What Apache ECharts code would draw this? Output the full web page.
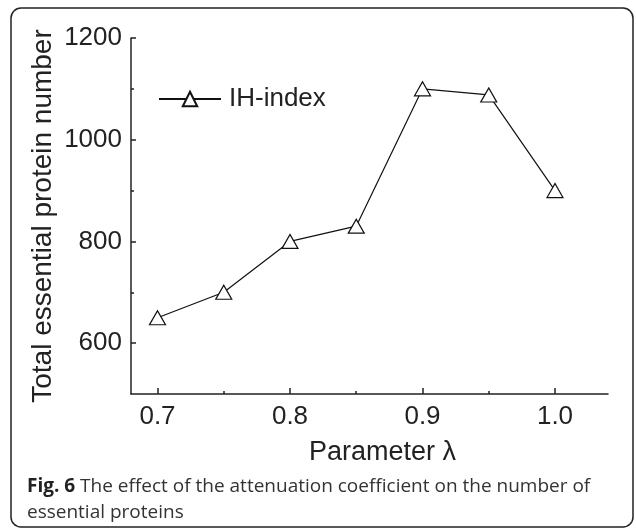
<!DOCTYPE html>
<html>
<head>
<meta charset="utf-8">
<style>
  html, body { margin: 0; padding: 0; background: #fff; }
  #chart { width: 636px; height: 530px; }
</style>
<script src="https://cdn.jsdelivr.net/npm/echarts@6/dist/echarts.min.js"></script>
</head>
<body>
<div id="chart"></div>
<script>
// data
var lambdas = [0.7, 0.75, 0.8, 0.85, 0.9, 0.95, 1.0];
var ihIndex = [650, 700, 800, 830, 1100, 1088, 900];
var xMajor = [0.7, 0.8, 0.9, 1.0];
var xMinor = [0.75, 0.85, 0.95];
var yMajor = [600, 800, 1000, 1200];
var yMinor = [700, 900, 1100];

var myChart = echarts.init(document.getElementById('chart'));
var axisFont = 'Liberation Sans, Arial, sans-serif';
var ink = '#222';

var points = lambdas.map(function (x, i) { return [x, ihIndex[i]]; });

// tick-only axis, drawn on top of the main one
function tickAxis(min, max, pos, values, len) {
    return {
        type: 'value', min: min, max: max, position: pos,
        axisLine: { show: false },
        axisTick: { show: true, inside: true, length: len, customValues: values, lineStyle: { color: ink, width: 1.5 } },
        axisLabel: { show: false },
        splitLine: { show: false }
    };
}

var option = {
    animation: false,
    backgroundColor: '#fff',
    grid: { left: 131, right: 28, top: 38, bottom: 136 },
    legend: {
        left: 158,
        top: 86,
        padding: 0,
        itemWidth: 62,
        itemHeight: 18,
        textStyle: { fontFamily: axisFont, fontSize: 26, color: ink, padding: [0, 0, 0, 3] },
        data: ['IH-index']
    },
    xAxis: [{
        type: 'value',
        min: 0.68,
        max: 1.04,
        name: 'Parameter λ',
        nameLocation: 'middle',
        nameGap: 45,
        nameTextStyle: { fontFamily: axisFont, fontSize: 27, color: ink, padding: [0, 0, 0, 26] },
        axisLine: { lineStyle: { color: ink, width: 1.5 } },
        axisTick: { show: false },
        axisLabel: {
            customValues: xMajor, margin: 10,
            fontFamily: axisFont, fontSize: 26, color: ink,
            formatter: function (v) { return v.toFixed(1); }
        },
        splitLine: { show: false }
    },
        tickAxis(0.68, 1.04, 'bottom', xMajor, 6),
        tickAxis(0.68, 1.04, 'bottom', xMinor, 3)
    ],
    yAxis: [{
        type: 'value',
        min: 500,
        max: 1200,
        name: 'Total essential protein number',
        nameLocation: 'middle',
        nameGap: 74,
        nameMoveOverlap: false,
        nameTextStyle: { fontFamily: axisFont, fontSize: 28, color: ink },
        axisLine: { show: true, lineStyle: { color: ink, width: 1.5 } },
        axisTick: { show: false },
        axisLabel: {
            customValues: yMajor, margin: 9,
            fontFamily: axisFont, fontSize: 26, color: ink,
            formatter: function (v) { return String(v); }
        },
        splitLine: { show: false }
    },
        tickAxis(500, 1200, 'left', yMajor, 5),
        tickAxis(500, 1200, 'left', yMinor, 3)
    ],
    series: [{
        name: 'IH-index',
        type: 'line',
        data: points,
        symbol: 'triangle',
        symbolSize: [16, 14],
        lineStyle: { color: '#111', width: 1.2 },
        itemStyle: { color: '#fff', borderColor: '#111', borderWidth: 1.2 }
    }],
    graphic: [{
        type: 'rect',
        shape: { x: 11, y: 8, width: 622, height: 519, r: 10 },
        style: { fill: 'none', stroke: '#222', lineWidth: 1.5 },
        silent: true
    }, {
        type: 'text',
        left: 27,
        top: 477,
        style: {
            text: '{b|Fig. 6} The effect of the attenuation coefficient on the number of',
            font: '19px "Open Sans", sans-serif',
            fill: '#333',
            rich: {
                b: { fontFamily: 'Open Sans', fontSize: 19, fontWeight: 'bold', fill: '#222' }
            }
        }
    }, {
        type: 'text',
        left: 27,
        top: 503,
        style: {
            text: 'essential proteins',
            font: '19px "Open Sans", sans-serif',
            fill: '#333'
        }
    }]
};

myChart.setOption(option);
</script>
</body>
</html>
